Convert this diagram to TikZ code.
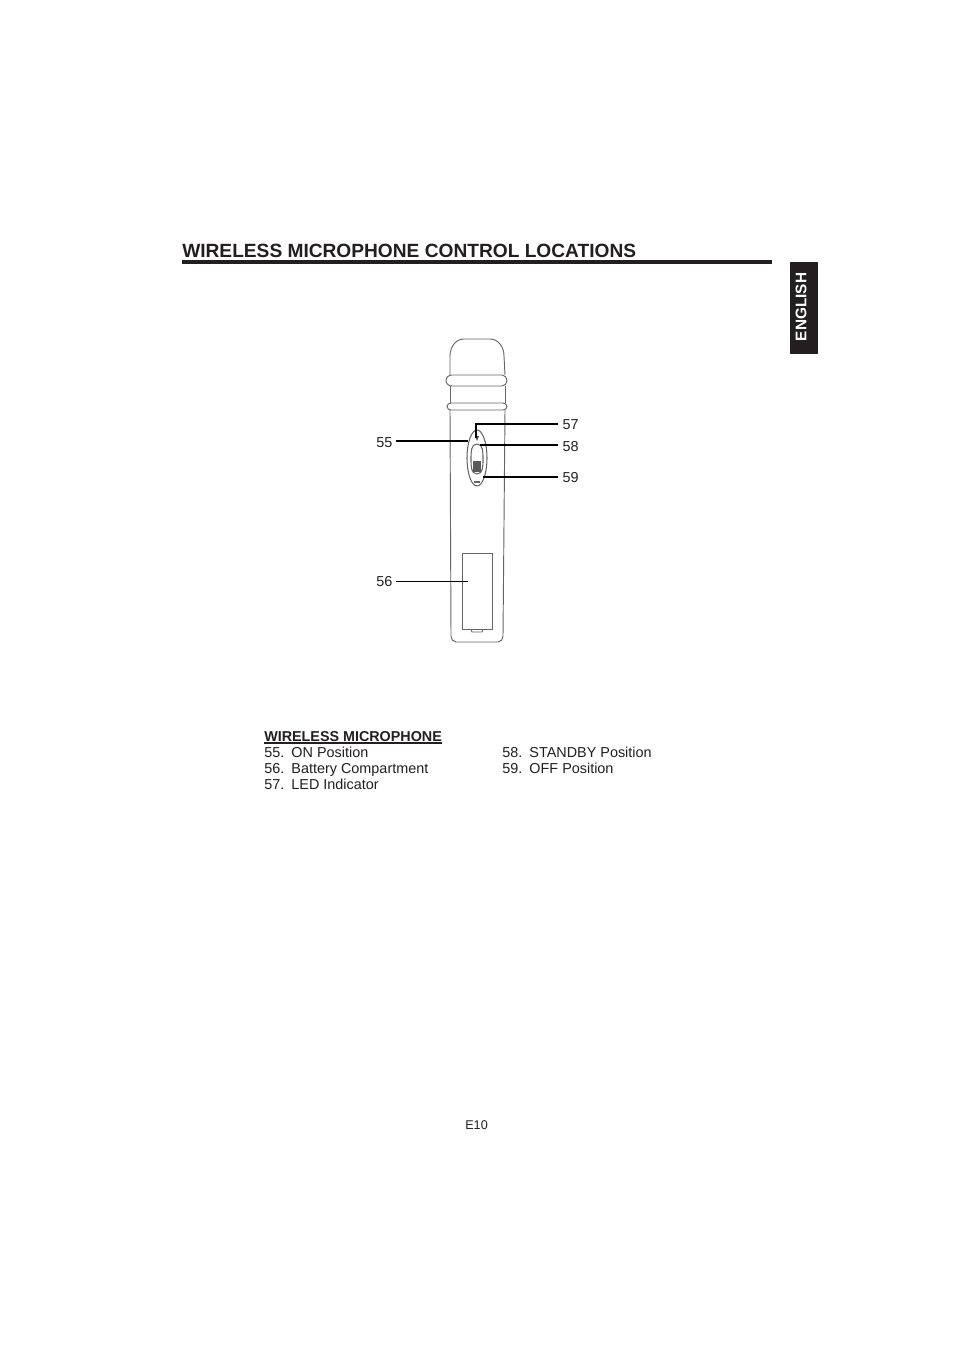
\documentclass[tikz,border=0pt]{standalone}
\usepackage{fontspec}
\setmainfont{Liberation Sans}
\usetikzlibrary{calc,positioning}
\definecolor{inkdark}{HTML}{231F20}
\tikzset{
	txtlabel/.style={anchor=base west,inner sep=0pt,text=inkdark,font=\fontsize{10.8}{13}\selectfont},
	numlabel/.style={inner xsep=2.5pt,inner ysep=0pt,text=inkdark,font=\fontsize{10.8}{13}\selectfont},
	micline/.style={draw=black!60,line width=.7pt},
	leader/.style={draw=black,line width=.9pt},
	leaderthin/.style={draw=black,line width=.6pt}
}
\begin{document}
\begin{tikzpicture}[x=.75pt,y=-.75pt]
	\useasboundingbox[fill=white] (0,0) rectangle (954,1350);
	% heading
	\node[anchor=base west,inner sep=0pt,text=inkdark,font=\fontsize{14.36}{16}\selectfont\bfseries] (title) at (182,257) {WIRELESS MICROPHONE CONTROL LOCATIONS};
	\fill[inkdark] (182,260) rectangle (772,264);
	\fill[inkdark] (790,262) rectangle (818,354);
	\node[rotate=90,inner sep=0pt,text=white,font=\fontsize{11.5}{13}\selectfont\bfseries] (lang) at (801,307) {ENGLISH};
	% microphone
	\draw[micline] (450,375) -- (450,356) to[out=90,in=180] (464,339) -- (490,339) to[out=0,in=90] (504,356) -- (505,375);
	\draw[micline] (452,375) -- (502,375) to[out=0,in=90] (507,380.5) to[out=-90,in=0] (502,386) -- (452,386) to[out=180,in=-90] (446,380.5) to[out=90,in=180] (452,375);
	\draw[micline] (450,386) -- (450,403);
	\draw[micline] (505,386) -- (505,403);
	\draw[micline] (451,403) -- (503,403) to[out=0,in=90] (507,406.5) to[out=-90,in=0] (503,410) -- (451,410) to[out=180,in=-90] (447,406.5) to[out=90,in=180] (451,403);
	\draw[micline] (450,410) -- (451,636) to[out=-90,in=180] (456,642) -- (498,642) to[out=0,in=-90] (503,636) -- (505,410);
	% battery cover
	\draw[micline] (462,553) rectangle (492,629);
	\draw[micline] (471,629) -- (472,632) -- (482,632) -- (483,629);
	% switch
	\draw[micline,line width=.8pt] (477,458) ellipse (10 and 28);
	\draw[micline,line width=.8pt] (477,444) to[out=180,in=90] (471,459) to[out=-90,in=180] (477,474) to[out=0,in=-90] (483,459) to[out=90,in=0] (477,444);
	\fill[black!65] (473,461) rectangle (481,472);
	\fill[black!70] (475,436) -- (479,436) -- (477,441) -- cycle;
	\fill[black!60] (474,481) rectangle (480,483);
	% callouts
	\node[numlabel,anchor=east] (n55) at (396,442.5) {55};
	\node[numlabel,anchor=east] (n56) at (396,581.5) {56};
	\node[numlabel,inner xsep=3.2pt,anchor=west] (n57) at (558,424.5) {57};
	\node[numlabel,inner xsep=3.2pt,anchor=west] (n58) at (558,446.5) {58};
	\node[numlabel,inner xsep=3.2pt,anchor=west] (n59) at (558,477.5) {59};
	\coordinate (p55) at (468,441);
	\coordinate (p56) at (468,581);
	\coordinate (p57) at (476,438);
	\coordinate (c57) at (476,424);
	\coordinate (p58) at (480,445);
	\coordinate (p59) at (483,477);
	\draw[leader] (n55.east |- p55) to (p55);
	\draw[leaderthin] (n56.east |- p56) to (p56);
	\draw[leader] (n57.west |- c57) -| (p57);
	\draw[leader] (n58.west |- p58) to (p58);
	\draw[leader] (n59.west |- p59) to (p59);
	% list
	\node[txtlabel,font=\fontsize{10.75}{13}\selectfont\bfseries] (listhead) at (264,741) {WIRELESS MICROPHONE};
	\draw[inkdark,line width=.8pt] (264,743) to (442,743);
	\node[txtlabel] (item55) at (264,757) {55.\hspace{.5em}ON Position};
	\node[txtlabel] (item56) at (264,773) {56.\hspace{.5em}Battery Compartment};
	\node[txtlabel] (item57) at (264,789) {57.\hspace{.5em}LED Indicator};
	\node[txtlabel] (item58) at (502,757) {58.\hspace{.5em}STANDBY Position};
	\node[txtlabel] (item59) at (502,773) {59.\hspace{.5em}OFF Position};
	\node[txtlabel,font=\fontsize{9.5}{11}\selectfont] (pagenum) at (465,1129) {E10};
\end{tikzpicture}
\end{document}
